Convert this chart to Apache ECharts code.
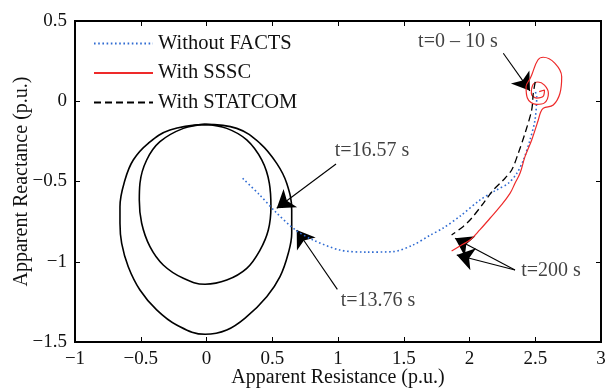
<!DOCTYPE html>
<html>
<head>
<meta charset="utf-8">
<script src="https://cdn.jsdelivr.net/npm/echarts@6/dist/echarts.min.js"></script>
<style>
  html, body { margin: 0; padding: 0; background: #fff; }
  .chart { width: 605px; height: 391px; }
</style>
</head>
<body>
<div class="chart"></div>
<script>
// 曲线数据 [R, X]
var withoutFacts = [[0.275, -0.48], [0.40, -0.58], [0.52, -0.685], [0.673, -0.80], [0.812, -0.865],
    [1.015, -0.927], [1.218, -0.94], [1.418, -0.937], [1.57, -0.896], [1.70, -0.835],
    [1.80, -0.79], [1.93, -0.715], [2.08, -0.615], [2.20, -0.555], [2.295, -0.511],
    [2.36, -0.449], [2.41, -0.366], [2.46, -0.241], [2.498, -0.117], [2.511, 0.028], [2.50, 0.06]];

var withSSSC = [[2.53, 0.06], [2.57, 0.07], [2.56, 0.03], [2.51, 0.02], [2.47, 0.05], [2.48, 0.10],
    [2.52, 0.12], [2.57, 0.10], [2.60, 0.05], [2.57, -0.01], [2.51, -0.02], [2.44, 0.02],
    [2.43, 0.09], [2.46, 0.14], [2.473, 0.164], [2.52, 0.257], [2.561, 0.274], [2.65, 0.236],
    [2.701, 0.153], [2.688, 0.05], [2.637, -0.023], [2.561, -0.044], [2.54, -0.07],
    [2.523, -0.117], [2.473, -0.241], [2.422, -0.345], [2.384, -0.449], [2.346, -0.511],
    [2.308, -0.574], [2.232, -0.657], [2.156, -0.729], [2.08, -0.80], [2.004, -0.864],
    [1.93, -0.90], [1.864, -0.933]];

var withSTATCOM = [[2.50, 0.12], [2.485, 0.05], [2.473, -0.054], [2.422, -0.2], [2.371, -0.324],
    [2.321, -0.428], [2.257, -0.491], [2.181, -0.553], [2.105, -0.636], [2.016, -0.729],
    [1.953, -0.78], [1.864, -0.833]];

// 两个阻抗圆（区域特性）
var zoneInner = [[-0.011, -0.144], [0.154, -0.169], [0.306, -0.241], [0.420, -0.366], [0.478, -0.511],
    [0.490, -0.657], [0.470, -0.802], [0.407, -0.927], [0.306, -1.041], [0.154, -1.114],
    [-0.011, -1.14], [-0.176, -1.103], [-0.329, -1.02], [-0.430, -0.906], [-0.493, -0.760],
    [-0.511, -0.615], [-0.506, -0.511], [-0.455, -0.366], [-0.354, -0.252], [-0.176, -0.169],
    [-0.011, -0.144]];

var zoneOuter = [[-0.011, -0.144], [0.230, -0.169], [0.407, -0.262], [0.534, -0.387], [0.610, -0.511],
    [0.648, -0.678], [0.648, -0.823], [0.622, -0.947], [0.559, -1.093], [0.458, -1.218],
    [0.306, -1.342], [0.154, -1.425], [-0.011, -1.452], [-0.227, -1.394], [-0.379, -1.30],
    [-0.506, -1.176], [-0.595, -1.031], [-0.645, -0.885], [-0.658, -0.760], [-0.658, -0.657],
    [-0.620, -0.491], [-0.557, -0.366], [-0.443, -0.262], [-0.278, -0.179], [-0.011, -0.144]];

// 标注文字与箭头
var noteTexts = ['t=0 – 10 s', 't=16.57 s', 't=13.76 s', 't=200 s'];
var notePos = [[1.912, 0.369], [1.259, -0.31], [1.304, -1.245], [2.62, -1.058]];
var arrows = [
    [[2.257, 0.299], [2.46, 0.065]],
    [[0.985, -0.391], [0.534, -0.667]],
    [[0.995, -1.172], [0.686, -0.802]],
    [[2.346, -1.051], [1.89, -0.854]],
    [[2.346, -1.051], [1.903, -0.958]]
];

var xTicks = [-1, 3, 0.5];
var yTicks = [-1.5, 0.5, 0.5];

var font = '"Liberation Serif", "DejaVu Serif", serif';
var myChart = echarts.init(document.querySelector('.chart'));

function boxAxis(range, pos, showLabel, name) {
    return {
        type: 'value',
        gridIndex: 0,
        show: true,
        position: pos,
        min: range[0],
        max: range[1],
        interval: range[2],
        name: name,
        nameLocation: 'middle',
        nameMoveOverlap: false,
        nameTextStyle: { fontFamily: font, fontSize: 20, color: '#111' },
        splitLine: { show: false },
        axisLine: { show: true, onZero: false, lineStyle: { color: '#000', width: 1.8 } },
        axisTick: { show: true, inside: true, length: 5, lineStyle: { color: '#000', width: 1 } },
        axisLabel: {
            show: showLabel, fontFamily: font, fontSize: 19, color: '#111', margin: 8,
            formatter: function (v) { return String(v).replace('-', '\u2212'); }
        }
    };
}

var xAxisBottom = boxAxis(xTicks, 'bottom', true, 'Apparent Resistance (p.u.)');
xAxisBottom.nameGap = 26;
var yAxisLeft = boxAxis(yTicks, 'left', true, 'Apparent Reactance (p.u.)');
yAxisLeft.nameGap = 43;

var option = {
    animation: false,
    grid: {
        left: 75, right: 4, top: 21, bottom: 49,
        outerBoundsMode: 'none', containLabel: false,
        show: true, borderColor: '#000', borderWidth: 1.8
    },
    xAxis: [xAxisBottom, boxAxis(xTicks, 'top', false, '')],
    yAxis: [yAxisLeft, boxAxis(yTicks, 'right', false, '')],
    legend: {
        data: ['Without FACTS', 'With SSSC', 'With STATCOM'],
        orient: 'vertical',
        left: 88,
        top: 28,
        itemWidth: 59,
        itemHeight: 14,
        itemGap: 8.5,
        itemStyle: { color: 'rgba(0,0,0,0)', borderWidth: 0 },
        textStyle: { fontFamily: font, fontSize: 20.5, color: '#111', lineHeight: 20 }
    },
    series: [
        {
            name: 'zone1', type: 'line', data: zoneInner, smooth: 0.4, symbol: 'none',
            lineStyle: { color: '#000', width: 1.6 }, silent: true
        },
        {
            name: 'zone2', type: 'line', data: zoneOuter, smooth: 0.4, symbol: 'none',
            lineStyle: { color: '#000', width: 1.6 }, silent: true
        },
        {
            name: 'Without FACTS', type: 'line', data: withoutFacts, smooth: 0.3, symbol: 'none',
            itemStyle: { color: '#2F6BD2' },
            lineStyle: { color: '#2F6BD2', width: 1.6, type: [1.6, 2.6] }
        },
        {
            name: 'With SSSC', type: 'line', data: withSSSC, smooth: 0.4, symbol: 'none',
            itemStyle: { color: '#EE2A2A' },
            lineStyle: { color: '#EE2A2A', width: 1.2 }
        },
        {
            name: 'With STATCOM', type: 'line', data: withSTATCOM, smooth: 0.3, symbol: 'none',
            itemStyle: { color: '#000' },
            lineStyle: { color: '#000', width: 1.3, type: [7, 4] }
        },
        {
            name: 'arrows', type: 'lines', coordinateSystem: 'cartesian2d',
            symbol: ['none', 'arrow'], symbolSize: 17, silent: true,
            lineStyle: { color: '#000', width: 1.1, opacity: 1 },
            itemStyle: { color: '#000' },
            data: arrows.map(function (a) { return { coords: a }; })
        },
        {
            name: 'notes', type: 'scatter', symbolSize: 1, silent: true,
            itemStyle: { color: 'rgba(0,0,0,0)' },
            label: {
                show: true, position: 'inside', fontFamily: font, fontSize: 20, color: '#111',
                formatter: function (p) { return p.name; }
            },
            data: notePos.map(function (p, i) { return { name: noteTexts[i], value: p }; })
        }
    ]
};
myChart.setOption(option);
</script>
</body>
</html>
